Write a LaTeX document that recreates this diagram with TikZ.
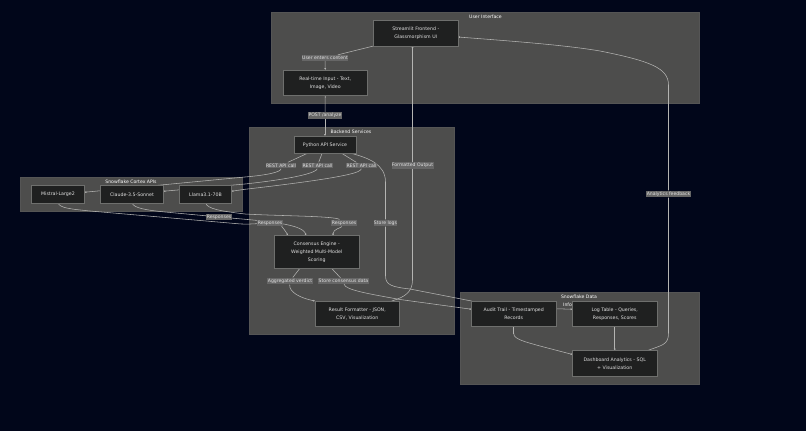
\documentclass[tikz,border=0pt]{standalone}
\usepackage{fontspec}
\setmainfont{DejaVu Sans}
\usetikzlibrary{arrows.meta,calc}
\pgfdeclarelayer{bg}\pgfdeclarelayer{edg}
\pgfsetlayers{bg,edg,main}
\definecolor{pagebg}{HTML}{01061A}
\definecolor{clus}{HTML}{4D4D4C}
\definecolor{clusline}{HTML}{555555}
\definecolor{boxfill}{HTML}{1F2020}
\definecolor{boxline}{HTML}{6E6F6D}
\definecolor{edgec}{HTML}{B4B4B2}
\definecolor{labfill}{HTML}{666666}
\definecolor{txt}{HTML}{E2E2E2}
\tikzset{
  x=1pt,y=-1pt,
  clusterbox/.style={fill=clus,draw=clusline,line width=0.4pt},
  clustertitle/.style={text=white,font=\fontsize{4.6}{6}\selectfont,inner sep=0pt},
  box/.style={fill=boxfill,draw=boxline,line width=0.6pt,text=txt,font=\fontsize{4.7}{8}\selectfont,align=center,inner sep=0pt,outer sep=0pt,minimum width=#1,anchor=north west},
  lab/.style={fill=labfill,text=txt,font=\fontsize{4.6}{6}\selectfont,inner xsep=0.4pt,inner ysep=1.2pt},
  edge/.style={draw=edgec,line width=0.55pt},
  arr/.style={edge,-{Latex[length=1.8pt,width=2pt]}},
}
\begin{document}
\begin{tikzpicture}
\useasboundingbox (0,0) rectangle (806,431);
\begin{pgfonlayer}{bg}
\fill[pagebg] (0,0) rectangle (806,431);
\draw[clusterbox] (271,12) rectangle (699,103.5);
\draw[clusterbox] (249,127.5) rectangle (454,334);
\draw[clusterbox] (20,177) rectangle (242.5,211);
\draw[clusterbox] (460,292.5) rectangle (699,384);
\end{pgfonlayer}
% cluster titles
\node[clustertitle] (tui) at (485.5,16.3) {User Interface};
\node[clustertitle] (tbe) at (351,132) {Backend Services};
\node[clustertitle] (tco) at (131,181.7) {Snowflake Cortex APIs};
\node[clustertitle] (tda) at (579,296.9) {Snowflake Data};
\node[clustertitle,anchor=west] (tdb) at (563,304.3) {Info};
% boxes
\node[box=84.5,minimum height=25.5] (st) at (373.5,20.5) {Streamlit Frontend -\\Glassmorphism UI};
\node[box=84.5,minimum height=25.5] (rt) at (283,70) {Real-time Input - Text,\\Image, Video};
\node[box=62,minimum height=17.5] (py) at (294,136) {Python API Service};
\node[box=53,minimum height=17.5] (mi) at (31.5,185.5) {Mistral-Large2};
\node[box=63,minimum height=17.5] (cl) at (100.5,185.5) {Claude-3.5-Sonnet};
\node[box=52,minimum height=17.5] (ll) at (179.5,185.5) {Llama3.1-70B};
\node[box=84.5,minimum height=33] (co) at (274.5,235.5) {Consensus Engine -\\Weighted Multi-Model\\Scoring};
\node[box=84.5,minimum height=25.5] (re) at (315,301) {Result Formatter - JSON,\\CSV, Visualization};
\node[box=84.5,minimum height=25.5] (au) at (471.5,301) {Audit Trail - Timestamped\\Records};
\node[box=84.5,minimum height=25.5] (lo) at (572.5,301) {Log Table - Queries,\\Responses, Scores};
\node[box=84.5,minimum height=25.5] (da) at (572.5,350.5) {Dashboard Analytics - SQL\\+ Visualization};
% edge labels
\node[lab] (l1) at (325,58) {User enters content};
\node[lab] (l2) at (325,115.5) {POST /analyze};
\node[lab] (l3) at (281,165.5) {REST API call};
\node[lab] (l4) at (317.5,165.5) {REST API call};
\node[lab] (l5) at (361.5,165.5) {REST API call};
\node[lab] (l6) at (412.5,165.5) {Formatted Output};
\node[lab] (l7) at (219,217) {Responses};
\node[lab] (l8) at (270,223) {Responses};
\node[lab] (l9) at (344,223) {Responses};
\node[lab] (l10) at (385.5,223) {Store logs};
\node[lab] (l11) at (290,281) {Aggregated verdict};
\node[lab] (l12) at (343.5,281) {Store consensus data};
\node[lab] (l13) at (668.5,194) {Analytics feedback};
% edges
\begin{pgfonlayer}{edg}
\draw[edge] (st.south west) -- (l1);
\draw[arr] (l1) -- (rt.north);
\draw[edge] (rt.south) -- (l2);
\draw[arr] (l2) -- (py.north);
% REST calls
\draw[edge] ([xshift=-18]py.south) -- (l3);
\draw[arr] (l3) .. controls (281,172) and (268,175) .. (245,177) -- ([yshift=2]mi.east);
\draw[edge] ([xshift=-3]py.south) -- (l4);
\draw[arr] (l4) .. controls (317,172) and (300,178) .. (245,184) -- ([yshift=3]cl.east);
\draw[edge] ([xshift=17]py.south) -- (l5);
\draw[arr] (l5) .. controls (361,172) and (352,177) .. (245,189.3) -- ([yshift=3]ll.east);
% responses
\draw[edge] (mi.south) .. controls (60,208) and (70,209) .. (90,211) -- (235,223.5) .. controls (245,224.3) .. (l8);
\draw[arr] (l8) .. controls (278,224) and (284,228) .. ([xshift=-28.7]co.north);
\draw[edge] (cl.south) .. controls (134,208) and (145,210) .. (165,212) -- (l7);
\draw[arr] (l7) .. controls (265,221) and (303,224) .. ([xshift=-10.7]co.north);
\draw[edge] (ll.south) .. controls (208,209) and (220,211) .. (245,214) .. controls (280,216) and (335,216) .. (l9);
\draw[arr] (l9) .. controls (341,228) and (333,229) .. ([xshift=16.3]co.north);
% store logs
\draw[edge] ([xshift=-4]py.south east) .. controls (368,158) and (385.5,164) .. (385.5,182) -- (l10);
\draw[edge] (l10) -- (385.5,276) .. controls (385.5,285) and (392,287) .. (410,289) -- (au.north west);
% consensus out
\draw[edge] ([xshift=-17]co.south) -- (l11);
\draw[arr] (l11) .. controls (289,292) and (300,298) .. (re.north west);
\draw[edge] ([xshift=15]co.south) -- (l12);
\draw[arr] (l12) .. controls (345,290) and (370,294) .. (400,299.5) -- ([yshift=4.5]au.west);
% formatted output
\draw[edge] ([xshift=34.5]re.north) .. controls (405,297) and (412.5,292) .. (412.5,280) -- (l6);
\draw[arr] (l6) -- ([xshift=-3.25]st.south);
% data
\draw[arr] ([yshift=5]au.east) -- ([yshift=4.5]lo.west);
\draw[edge] (au.south) -- ++(0,7);
\draw[arr] ($(au.south)+(0,7)$) .. controls (513.8,340) and (525,342) .. ([yshift=8.75]da.west);
\draw[arr] (lo.south) -- (da.north);
\draw[edge] ([xshift=33]da.north) .. controls (662,345) and (668.5,345) .. (668.5,333) -- (l13);
\draw[arr] (l13) -- (668.5,85) .. controls (668.5,68) and (650,61) .. (600,51) .. controls (565,45) and (510,41) .. ([yshift=-3.75]st.east);
\end{pgfonlayer}
\end{tikzpicture}
\end{document}
